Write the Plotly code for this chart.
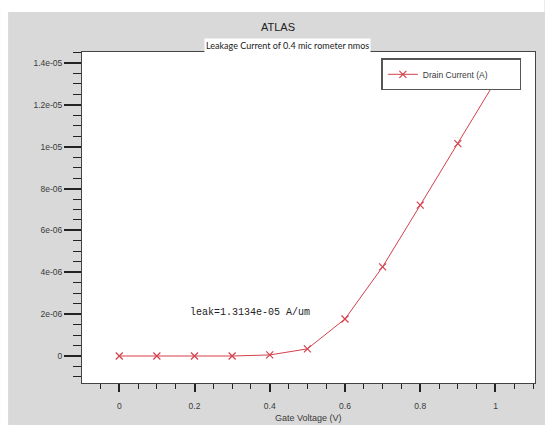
import plotly.graph_objects as go

# Data
gate_voltage = [0.0, 0.1, 0.2, 0.3, 0.4, 0.5, 0.6, 0.7, 0.8, 0.9, 1.0]
drain_current = [0.0, 0.0, 0.0, 0.0, 0.05e-6, 0.34e-6, 1.77e-6, 4.26e-6, 7.21e-6, 10.15e-6, 13.134e-6]
y_tickvals = [0, 2e-6, 4e-6, 6e-6, 8e-6, 10e-6, 12e-6, 14e-6]
y_ticktext = ["0", "2e-06", "4e-06", "6e-06", "8e-06", "1e-05", "1.2e-05", "1.4e-05"]
x_tickvals = [0, 0.2, 0.4, 0.6, 0.8, 1.0]
x_ticktext = ["0", "0.2", "0.4", "0.6", "0.8", "1"]

W, H = 545, 425
L, R, T, B = 82, 9.5, 52, 42
pw, ph = W - L - R, H - T - B

def px(x):
    return (x - L) / pw

def py(y):
    return (H - B - y) / ph

RED = "#d4414b"
GRAY = "#d9d9d9"
TXT = "#3a3a3a"

fig = go.Figure()
fig.add_trace(go.Scatter(
    x=gate_voltage, y=drain_current, mode="lines+markers",
    name="Drain Current (A)",
    line=dict(color=RED, width=1),
    marker=dict(symbol="x-thin", size=7, line=dict(color=RED, width=1.2)),
))

fig.update_layout(
    width=W, height=H,
    margin=dict(l=L, r=R, t=T, b=B),
    paper_bgcolor=GRAY,
    plot_bgcolor="white",
    font=dict(family="Liberation Sans, Arial", size=8, color=TXT),
    showlegend=True,
    legend=dict(
        orientation="h",
        x=px(381.7), y=py(58.3), xanchor="left", yanchor="top",
        bgcolor="white", bordercolor="#555555", borderwidth=1.5,
        font=dict(size=8.5, color=TXT),
        entrywidth=92, entrywidthmode="pixels",
    ),
    xaxis=dict(
        range=[-0.099, 1.105], showgrid=False, zeroline=False,
        showline=True, linecolor="#444444", linewidth=1, mirror=True,
        tickvals=x_tickvals, ticktext=x_ticktext,
        ticks="outside", ticklen=8, tickwidth=2, tickcolor="#222222",
        ticklabelstandoff=7,
        tickfont=dict(size=8.5),
        minor=dict(dtick=0.05, tick0=0, ticks="outside", ticklen=5, tickwidth=1, tickcolor="#222222", showgrid=False),
    ),
    yaxis=dict(
        range=[-1.29e-6, 1.4525e-5], showgrid=False, zeroline=False,
        showline=True, linecolor="#444444", linewidth=1, mirror=True,
        tickvals=y_tickvals, ticktext=y_ticktext,
        ticks="outside", ticklen=17, tickwidth=2, tickcolor="#222222",
        tickfont=dict(size=8.5),
        minor=dict(dtick=0.5e-6, tick0=0, ticks="outside", ticklen=8, tickwidth=1, tickcolor="#222222", showgrid=False),
    ),
    shapes=[
        dict(type="rect", xref="paper", yref="paper", x0=px(0), x1=px(W), y0=py(0), y1=py(12),
             fillcolor="white", line=dict(width=0), layer="below"),
        dict(type="rect", xref="paper", yref="paper", x0=px(0), x1=px(8), y0=py(0), y1=py(H),
             fillcolor="white", line=dict(width=0), layer="below"),
    ],
    annotations=[
        dict(text="ATLAS", xref="paper", yref="paper", x=px(278.5), y=py(27),
             xanchor="center", yanchor="middle", showarrow=False,
             font=dict(family="Liberation Sans, Arial", size=11, color="#222222")),
        dict(text="Leakage Current of 0.4 mic rometer nmos", xref="paper", yref="paper",
             x=px(287.5), y=py(45), xanchor="center", yanchor="middle", showarrow=False,
             bgcolor="white", borderpad=1,
             font=dict(family="Lato, Open Sans", size=9, color="#222222")),
        dict(text="leak=1.3134e-05 A/um", xref="x", yref="y", x=0.183, y=2.1e-6,
             xanchor="left", yanchor="middle", showarrow=False,
             font=dict(family="Liberation Mono, Courier New", size=10, color="#222222")),
        dict(text="Gate Voltage (V)", xref="paper", yref="paper", x=px(309), y=py(418),
             xanchor="center", yanchor="middle", showarrow=False,
             font=dict(family="Liberation Sans, Arial", size=9, color=TXT)),
    ],
)

fig.write_html("out.html")
